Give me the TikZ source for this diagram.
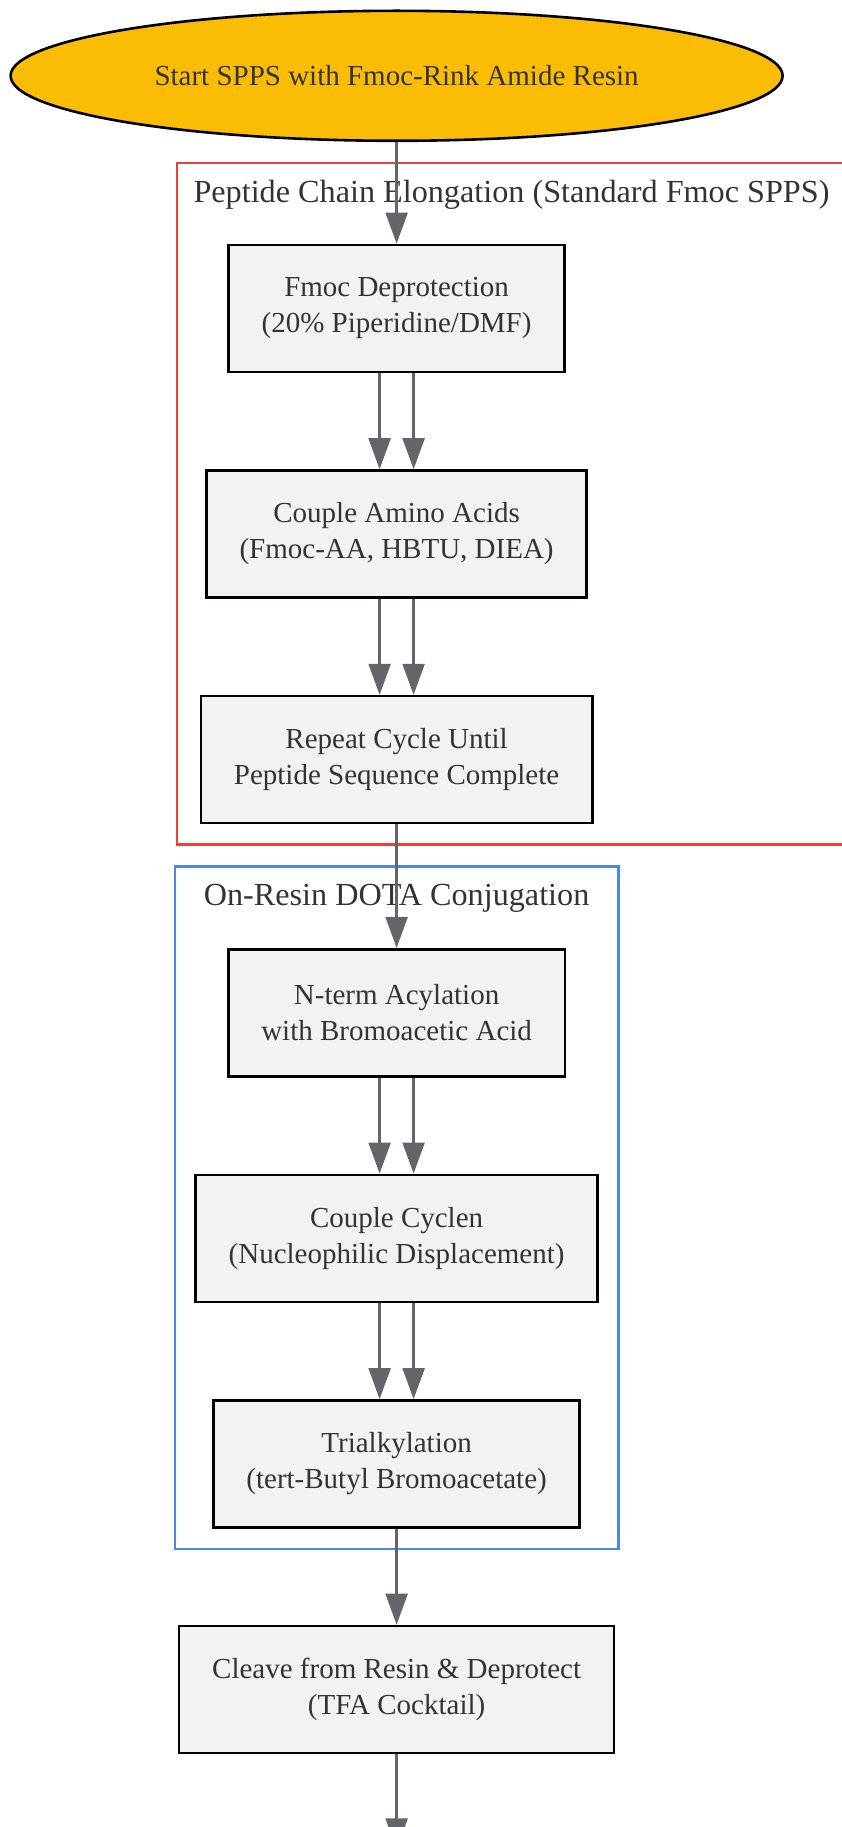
\documentclass[tikz,border=0pt]{standalone}
\usepackage{fontspec}
\setmainfont{Liberation Serif}
\usepackage{tikz}
\usetikzlibrary {arrows.meta,
                 positioning,
                 shapes.geometric}
\definecolor{startgold}{HTML}{FBBC05}
\definecolor{boxgray}{HTML}{F1F2F4}
\definecolor{edgegray}{HTML}{62656A}
\definecolor{textgray}{HTML}{333333}
\definecolor{elongred}{HTML}{EA4335}
\definecolor{dotablue}{HTML}{4A86E8}
\tikzset{
        base/.style={draw, line width=2.6pt, align=center, text=textgray,
                     font=\fontsize{29}{36}\selectfont},
        start/.style={base, ellipse, fill=startgold, minimum width=772pt,
                      minimum height=130pt, inner sep=0pt},
        proc/.style={base, rectangle, fill=boxgray, minimum height=127pt,
                     inner xsep=33pt},
        cluster/.style={line width=2.4pt},
        title/.style={text=textgray, font=\fontsize{32.2}{38}\selectfont},
        myarrow/.style={-{Triangle[width=22pt, length=31pt]}, line width=2.4pt,
                        draw=edgegray, fill=edgegray},
 }
\begin{document}
\begin{tikzpicture}[x=1pt, y=-1pt]
    \useasboundingbox (0,0) rectangle (841,1827);
    % groups
    \draw[cluster, elongred] (177,163) rectangle (880,844.5);
    \draw[cluster, dotablue] (175,866.5) rectangle (618.5,1549);
    \node[title] (elongtitle) at (511.5,194.5) {Peptide Chain Elongation (Standard Fmoc SPPS)};
    \node[title] (dotatitle) at (396.6,898) {On-Resin DOTA Conjugation};
    % steps
    \node[start] (start) at (396.6,75.8) {Start SPPS with Fmoc-Rink Amide Resin};
    \node[proc, below=101.5pt of start] (deprot) {Fmoc Deprotection\\(20\% Piperidine/DMF)};
    \node[proc, below=96pt of deprot] (couple) {Couple Amino Acids\\(Fmoc-AA, HBTU, DIEA)};
    \node[proc, below=96pt of couple] (repeat) {Repeat Cycle Until\\Peptide Sequence Complete};
    \node[proc, below=123.5pt of repeat] (acyl) {N-term Acylation\\with Bromoacetic Acid};
    \node[proc, below=96pt of acyl] (cyclen) {Couple Cyclen\\(Nucleophilic Displacement)};
    \node[proc, below=96pt of cyclen] (trialk) {Trialkylation\\(tert-Butyl Bromoacetate)};
    \node[proc, below=96pt of trialk] (cleave) {Cleave from Resin \& Deprotect\\(TFA Cocktail)};
    \coordinate (next) at ([yshift=-95pt]cleave.south);
    % edges
    \draw[myarrow] (start) -- (deprot);
    \draw[myarrow] ([xshift=-17pt]deprot.south) -- ([xshift=-17pt]couple.north);
    \draw[myarrow] ([xshift=17pt]deprot.south) -- ([xshift=17pt]couple.north);
    \draw[myarrow] ([xshift=-17pt]couple.south) -- ([xshift=-17pt]repeat.north);
    \draw[myarrow] ([xshift=17pt]couple.south) -- ([xshift=17pt]repeat.north);
    \draw[myarrow] (repeat) -- (acyl);
    \draw[myarrow] ([xshift=-17pt]acyl.south) -- ([xshift=-17pt]cyclen.north);
    \draw[myarrow] ([xshift=17pt]acyl.south) -- ([xshift=17pt]cyclen.north);
    \draw[myarrow] ([xshift=-17pt]cyclen.south) -- ([xshift=-17pt]trialk.north);
    \draw[myarrow] ([xshift=17pt]cyclen.south) -- ([xshift=17pt]trialk.north);
    \draw[myarrow] (trialk) -- (cleave);
    \draw[myarrow] (cleave) -- (next);
\end{tikzpicture}
\end{document}
